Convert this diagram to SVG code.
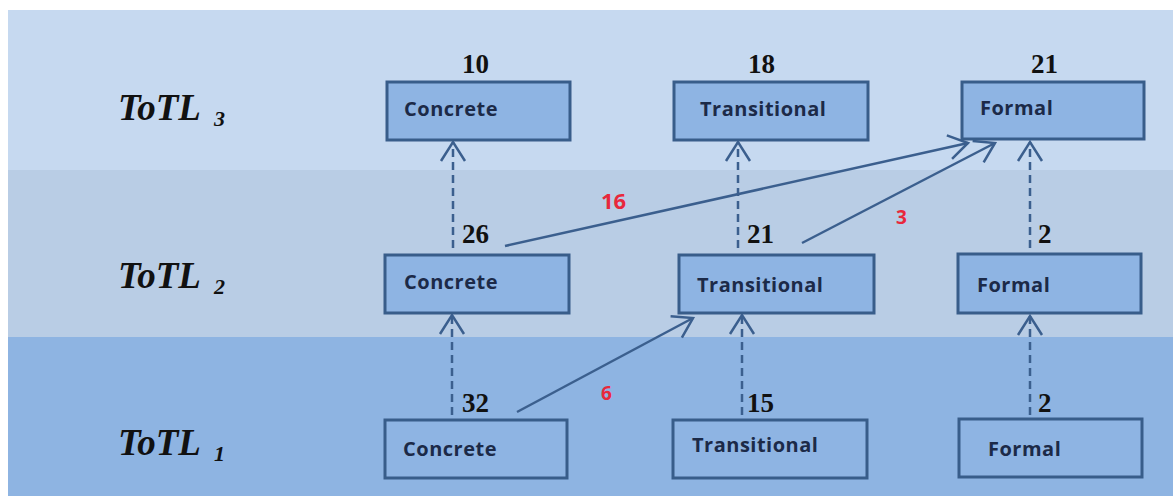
<svg xmlns="http://www.w3.org/2000/svg" width="1173" height="496" viewBox="0 0 1173 496">
<style>
.box{fill:#8eb4e3;stroke:#385d8a;stroke-width:3}
.lbl{font-family:"Open Sans","Liberation Sans",sans-serif;font-weight:700;font-size:20px;letter-spacing:0.5px;fill:#1c2a48}
.num{font-family:"Liberation Serif",serif;font-weight:bold;font-size:27px;fill:#111}
.red{font-family:"Open Sans","Liberation Sans",sans-serif;font-weight:700;font-size:19px;fill:#e8283c}
.row{font-family:"Liberation Serif",serif;font-weight:bold;font-style:italic;font-size:37px;fill:#111}
.sub{font-size:22px}
.dash{fill:none;stroke:#3b5f8e;stroke-width:2.5;stroke-dasharray:8 5}
.solid{fill:none;stroke:#3b5f8e;stroke-width:2.5}
</style>
<defs>
<marker id="ah" markerUnits="userSpaceOnUse" viewBox="-24 -16 28 32" markerWidth="28" markerHeight="32" refX="0" refY="0" orient="auto">
<path d="M-19,-12 L0,0 L-19,12" fill="none" stroke="#3b5f8e" stroke-width="2.5"/>
</marker>
</defs>
<rect x="0" y="0" width="1173" height="496" fill="#ffffff"/>
<rect x="8" y="10" width="1165" height="160" fill="#c6d9f0"/>
<rect x="8" y="170" width="1165" height="167" fill="#b9cde5"/>
<rect x="8" y="337" width="1165" height="159" fill="#8eb4e2"/>
<g id="row-labels">
<text class="row" x="118" y="120">ToTL</text><text class="row sub" x="214" y="126">3</text>
<text class="row" x="118" y="288">ToTL</text><text class="row sub" x="214" y="294">2</text>
<text class="row" x="118" y="455">ToTL</text><text class="row sub" x="214" y="461">1</text>
</g>
<g id="connectors">
<line class="dash" x1="452" y1="415" x2="452" y2="315" marker-end="url(#ah)"/>
<line class="dash" x1="453" y1="248" x2="453" y2="142" marker-end="url(#ah)"/>
<line class="dash" x1="738" y1="248" x2="738" y2="142" marker-end="url(#ah)"/>
<line class="dash" x1="742" y1="415" x2="742" y2="315" marker-end="url(#ah)"/>
<line class="dash" x1="1030" y1="248" x2="1030" y2="142" marker-end="url(#ah)"/>
<line class="dash" x1="1030" y1="415" x2="1030" y2="316" marker-end="url(#ah)"/>
<line class="solid" x1="505" y1="246" x2="968" y2="143" marker-end="url(#ah)"/>
<line class="solid" x1="802" y1="243" x2="995" y2="143" marker-end="url(#ah)"/>
<line class="solid" x1="517" y1="412" x2="693" y2="318" marker-end="url(#ah)"/>
<text class="red" x="601" y="209" style="font-size:22px">16</text>
<text class="red" x="896" y="224">3</text>
<text class="red" x="601" y="400">6</text>
</g>
<g id="n3-concrete"><rect class="box" x="387" y="82" width="183" height="58"/><text class="lbl" x="404" y="116">Concrete</text><text class="num" x="462" y="73">10</text></g>
<g id="n3-transitional"><rect class="box" x="674" y="82" width="194" height="58"/><text class="lbl" x="700" y="116">Transitional</text><text class="num" x="748" y="73">18</text></g>
<g id="n3-formal"><rect class="box" x="962" y="82" width="182" height="57"/><text class="lbl" x="980" y="115">Formal</text><text class="num" x="1031" y="73">21</text></g>
<g id="n2-concrete"><rect class="box" x="385" y="255" width="184" height="58"/><text class="lbl" x="404" y="289">Concrete</text><text class="num" x="462" y="243">26</text></g>
<g id="n2-transitional"><rect class="box" x="679" y="255" width="195" height="58"/><text class="lbl" x="697" y="292">Transitional</text><text class="num" x="747" y="243">21</text></g>
<g id="n2-formal"><rect class="box" x="958" y="254" width="183" height="59"/><text class="lbl" x="977" y="292">Formal</text><text class="num" x="1038" y="243">2</text></g>
<g id="n1-concrete"><rect class="box" x="385" y="420" width="182" height="58"/><text class="lbl" x="403" y="456">Concrete</text><text class="num" x="462" y="412">32</text></g>
<g id="n1-transitional"><rect class="box" x="673" y="420" width="194" height="58"/><text class="lbl" x="692" y="452">Transitional</text><text class="num" x="747" y="412">15</text></g>
<g id="n1-formal"><rect class="box" x="959" y="419" width="183" height="58"/><text class="lbl" x="988" y="456">Formal</text><text class="num" x="1038" y="412">2</text></g>
</svg>
